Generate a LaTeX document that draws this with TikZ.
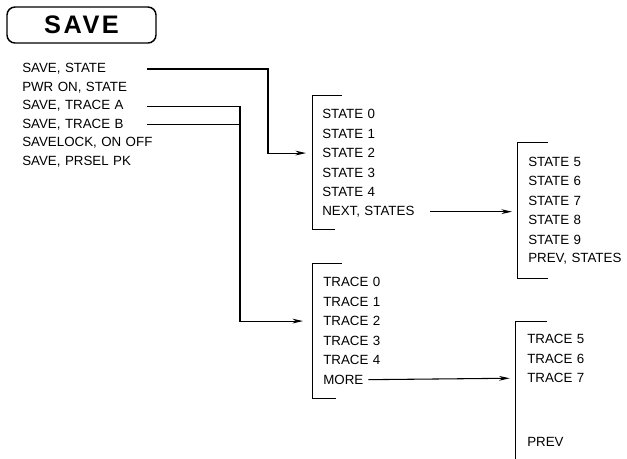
\documentclass[tikz,border=0pt]{standalone}
\usepackage{fontspec}
\setmainfont{Liberation Sans}
\usetikzlibrary{positioning,arrows.meta}

\begin{document}
\begin{tikzpicture}[x=0.75pt, y=-0.75pt, node distance=0pt,
    item/.style={inner sep=0pt, text width=94pt, align=left, minimum height=14.25pt, font=\fontsize{10}{12}\selectfont},
    menu/.style={item, text width=110pt, minimum height=13.5pt},
    link/.style={line width=0.8pt},
    tip/.style={link, -{Stealth[length=8pt,width=3.6pt]}, shorten >=12pt},
    brk/.style={line width=0.6pt}]
    \useasboundingbox (0,0) rectangle (627,458);

    % softkey
    \node[draw, line width=1.1pt, rounded corners=6pt, minimum width=111.75pt, minimum height=27pt,
        font=\fontsize{19}{19}\selectfont\bfseries\addfontfeatures{LetterSpace=10}] (save) at (81.5,25) {SAVE};

    % save menu
    \node[menu, anchor=west] (svst) at (22,69) {SAVE, STATE};
    \node[menu, below=of svst] (pwron) {PWR ON, STATE};
    \node[menu, below=of pwron] (svtra) {SAVE, TRACE A};
    \node[menu, below=of svtra] (svtrb) {SAVE, TRACE B};
    \node[menu, below=of svtrb] (svlock) {SAVELOCK, ON OFF};
    \node[menu, below=of svlock] (prsel) {SAVE, PRSEL PK};

    % states 0-4
    \node[item, anchor=west] (st0) at (322,114) {STATE 0};
    \node[item, below=of st0] (st1) {STATE 1};
    \node[item, below=of st1] (st2) {STATE 2};
    \node[item, below=of st2] (st3) {STATE 3};
    \node[item, below=of st3] (st4) {STATE 4};
    \node[item, below=of st4] (stnx) {NEXT, STATES};

    % states 5-9
    \node[item, anchor=west] (st5) at (528,161.5) {STATE 5};
    \node[item, below=of st5] (st6) {STATE 6};
    \node[item, below=of st6] (st7) {STATE 7};
    \node[item, below=of st7] (st8) {STATE 8};
    \node[item, below=of st8] (st9) {STATE 9};
    \node[item, below=of st9] (stpv) {PREV, STATES};

    % traces 0-4
    \node[item, anchor=west] (tr0) at (323,282) {TRACE 0};
    \node[item, below=of tr0] (tr1) {TRACE 1};
    \node[item, below=of tr1] (tr2) {TRACE 2};
    \node[item, below=of tr2] (tr3) {TRACE 3};
    \node[item, below=of tr3] (tr4) {TRACE 4};
    \node[item, below=of tr4] (trmore) {MORE};

    % traces 5-7
    \node[item, anchor=west] (tr5) at (527,339) {TRACE 5};
    \node[item, below=of tr5] (tr6) {TRACE 6};
    \node[item, below=of tr6] (tr7) {TRACE 7};
    \node[item, below=33pt of tr7] (trpv) {PREV};

    % brackets
    \draw[brk] ([shift={(15pt,7pt)}]st0.north west) -- ([shift={(-7.5pt,7pt)}]st0.north west)
        -- ([shift={(-7.5pt,-5.6pt)}]stnx.south west) -- ([shift={(10pt,-5.6pt)}]stnx.south west);
    \draw[brk] ([shift={(15pt,7pt)}]st5.north west) -- ([shift={(-8pt,7pt)}]st5.north west)
        -- ([shift={(-8pt,-7pt)}]stpv.south west) -- ([shift={(15pt,-7pt)}]stpv.south west);
    \draw[brk] ([shift={(14pt,7pt)}]tr0.north west) -- ([shift={(-8pt,7pt)}]tr0.north west)
        -- ([shift={(-8pt,-7pt)}]trmore.south west) -- ([shift={(10pt,-7pt)}]trmore.south west);
    \draw[brk] ([shift={(15pt,6pt)}]tr5.north west) -- ([shift={(-9pt,6pt)}]tr5.north west)
        -- ([shift={(-9pt,-7pt)}]trpv.south west);

    % connectors
    \coordinate (jL) at (147,0);
    \coordinate (jS) at (268,0);
    \coordinate (jT) at (240,0);
    \draw[tip] (svst -| jL) -| (jS |- st2.west) -- (st2.west);
    \draw[tip, shorten >=15pt] (svtra -| jL) -| (jT |- tr2.west) -- (tr2.west);
    \draw[link] (svtrb -| jL) -- (svtrb -| jT);
    \draw[tip] ([xshift=81pt]stnx.west) -- (stnx.west -| st5.west);
    \draw[tip, shorten >=13pt] ([xshift=34pt]trmore.west) -- (tr7.west);
\end{tikzpicture}
\end{document}
